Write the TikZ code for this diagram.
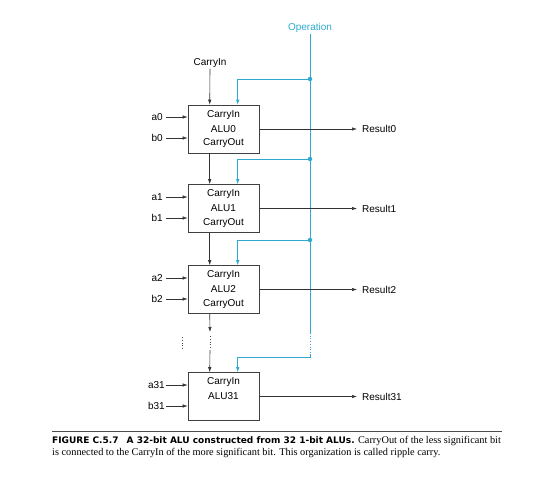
\documentclass[tikz,border=0pt]{standalone}
\usepackage{fontspec}
\setmainfont{Liberation Serif}
\setsansfont{Liberation Sans}
\newfontfamily\capboldfont{DejaVu Sans}
\usetikzlibrary{arrows.meta,calc}
\definecolor{opteal}{RGB}{45,170,205}
\begin{document}
\begin{tikzpicture}[x=1pt,y=-1pt,
 alubox/.style={draw=black!75, line width=0.6pt, minimum width=71pt, minimum height=48pt, inner sep=0pt},
 lbl/.style={font=\sffamily\fontsize{10}{12}\selectfont, inner sep=1pt},
 reslbl/.style={lbl, anchor=west, inner xsep=5pt},
 inlbl/.style={lbl, anchor=east, inner xsep=3pt},
 wire/.style={draw=black!80, line width=0.6pt},
 arr/.style={wire,-{Latex[length=5pt,width=3.4pt]}},
 tealwire/.style={draw=opteal, line width=0.7pt},
 tarr/.style={tealwire,-{Latex[length=5pt,width=3.4pt]}},
 dotn/.style={circle, fill=opteal, inner sep=0pt, minimum size=4.5pt},
 dotsline/.style={draw=black!70, line width=0.8pt, dotted},
 capline/.style={anchor=base west, inner sep=0pt, font=\fontsize{10.3}{12}\selectfont}]

\useasboundingbox (0,0) rectangle (540,480);
\fill[white] (0,0) rectangle (540,480);

% ALU boxes
\node[alubox] (alu0) at (223.5,129) {};
\node[alubox] (alu1) at (223.5,208.5) {};
\node[alubox] (alu2) at (223.5,289.5) {};
\node[alubox] (alu31) at (223.5,396.5) {};

% texts inside boxes
\node[lbl] (ci0) at ($(alu0.north)+(0,10)$) {CarryIn};
\node[lbl] (n0) at (alu0.center) {ALU0};
\node[lbl] (co0) at ($(alu0.south)+(0,-10)$) {CarryOut};
\node[lbl] (ci1) at ($(alu1.north)+(0,10)$) {CarryIn};
\node[lbl] (n1) at (alu1.center) {ALU1};
\node[lbl] (co1) at ($(alu1.south)+(0,-10)$) {CarryOut};
\node[lbl] (ci2) at ($(alu2.north)+(0,10)$) {CarryIn};
\node[lbl] (n2) at (alu2.center) {ALU2};
\node[lbl] (co2) at ($(alu2.south)+(0,-10)$) {CarryOut};
\node[lbl] (ci31) at ($(alu31.north)+(0,10)$) {CarryIn};
\node[lbl] (n31) at (alu31.center) {ALU31};

% ports
\foreach \b in {alu0,alu1,alu2,alu31}{
  \coordinate (\b cin) at ($(\b.north west)+(22,0)$);
  \coordinate (\b cout) at ($(\b.south west)+(22,0)$);
  \coordinate (\b op) at ($(\b.north west)+(50,0)$);
}

% inputs
\node[inlbl] (a0) at (166,117) {a0};
\node[inlbl] (b0) at (166,138) {b0};
\node[inlbl] (a1) at (166,197) {a1};
\node[inlbl] (b1) at (166,218) {b1};
\node[inlbl] (a2) at (166,278) {a2};
\node[inlbl] (b2) at (166,299) {b2};
\node[inlbl, inner xsep=1pt] (a31) at (166,385) {a31};
\node[inlbl, inner xsep=1pt] (b31) at (166,406) {b31};
\foreach \i/\b in {a0/alu0,b0/alu0,a1/alu1,b1/alu1,a2/alu2,b2/alu2,a31/alu31,b31/alu31}{
  \draw[arr] (\i.east) -- (\i.east -| \b.west);
}

% carry chain
\node[lbl] (cin) at (210,63) {CarryIn};
\draw[arr] (cin.south) -- (alu0cin);
\draw[arr] (alu0cout) -- (alu1cin);
\draw[arr] (alu1cout) -- (alu2cin);
\coordinate (cbrk1) at (210,332);
\coordinate (cbrk2) at (210,350);
\draw[arr] (alu2cout) -- (cbrk1);
\draw[dotsline] (210,336) -- (210,348);
\draw[arr] (cbrk2) -- (alu31cin);
\draw[dotsline] (182,337) -- (182,349);

% operation bus
\node[lbl, text=opteal] (op) at (310,28) {Operation};
\coordinate (busend) at (310,333);
\coordinate (busdot) at (310,354);
\coordinate (bus31) at (310,357);
\draw[tealwire] (op.south) -- (busend);
\draw[tealwire, dotted, line width=0.8pt] (busend) -- (busdot);
\node[dotn] (d0) at (310,79) {};
\node[dotn] (d1) at (310,159) {};
\node[dotn] (d2) at (310,240) {};
\draw[tarr] (d0.center) -| (alu0op);
\draw[tarr] (d1.center) -| (alu1op);
\draw[tarr] (d2.center) -| (alu2op);
\draw[tarr] (busdot) -- (bus31) -| (alu31op);

% results
\node[reslbl] (r0) at (357,129) {Result0};
\node[reslbl] (r1) at (357,208.5) {Result1};
\node[reslbl] (r2) at (357,289.5) {Result2};
\node[reslbl] (r31) at (357,396.5) {Result31};
\draw[arr] (alu0.east) -- (r0.west);
\draw[arr] (alu1.east) -- (r1.west);
\draw[arr] (alu2.east) -- (r2.west);
\draw[arr] (alu31.east) -- (r31.west);

% caption
\coordinate (capl) at (52,431);
\coordinate (capr) at (502,431);
\draw[black!70, line width=0.9pt] (capl) -- (capr);
\node[capline] (cap1) at (52,443)
 {{\capboldfont\bfseries\fontsize{9}{12}\selectfont FIGURE C.5.7\hspace{0.9em}A 32-bit ALU constructed from 32 1-bit ALUs.} CarryOut of the less significant bit};
\node[capline] (cap2) at (52,455)
 {is connected to the CarryIn of the more significant bit. This organization is called ripple carry.};
\end{tikzpicture}
\end{document}
